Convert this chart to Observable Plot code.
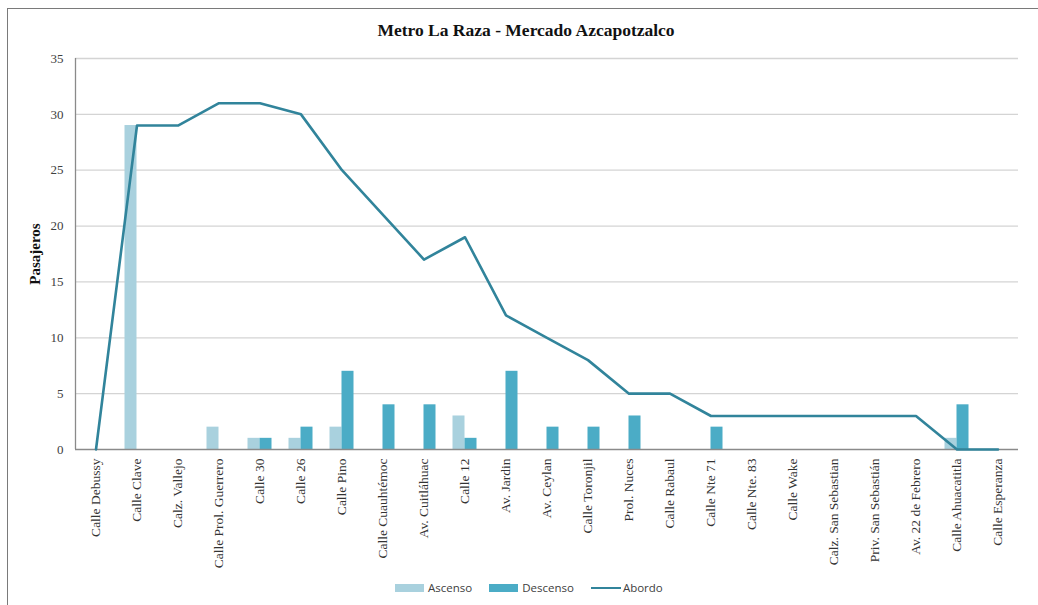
<!DOCTYPE html>
<html>
<head>
<meta charset="utf-8">
<script src="https://cdn.jsdelivr.net/npm/d3@7"></script>
<script src="https://cdn.jsdelivr.net/npm/@observablehq/plot@0.6"></script>
<style>
  html, body { margin: 0; padding: 0; background: #fff; }
  body { width: 1038px; height: 605px; overflow: hidden; position: relative; font-family: "Liberation Serif", "Times New Roman", serif; }
  #frame { position: absolute; left: 7px; top: 8px; right: -2px; bottom: -2px; border-left: 1.5px solid #7a7a7a; border-top: 1.5px solid #7a7a7a; }
  #title { position: absolute; left: 0; width: 1052px; top: 20px; text-align: center; font-weight: bold; font-size: 17.5px; color: #111; }
  #chart { position: absolute; left: 0; top: 50px; }
  #legend { position: absolute; left: 395px; top: 580px; display: flex; align-items: center; font-family: "Open Sans", sans-serif; font-size: 11.5px; color: #404040; }
  #legend .item { display: flex; align-items: center; margin-right: 17px; }
  #legend .sw { width: 29px; height: 8px; margin-right: 4px; }
  #legend .ln { width: 30px; height: 2px; margin-right: 2px; }
</style>
</head>
<body>
<div id="frame"></div>
<div id="title"></div>
<div id="chart"></div>
<div id="legend"></div>
<script>
const title = "Metro La Raza - Mercado Azcapotzalco";
const yLabel = "Pasajeros";
const stops = ["Calle Debussy", "Calle Clave", "Calz. Vallejo", "Calle Prol. Guerrero", "Calle 30", "Calle 26", "Calle Pino", "Calle Cuauhtémoc", "Av. Cuitláhuac", "Calle 12", "Av. Jardin", "Av. Ceylan", "Calle Toronjil", "Prol. Nuces", "Calle Rabaul", "Calle Nte 71", "Calle Nte. 83", "Calle Wake", "Calz. San Sebastian", "Priv. San Sebastián", "Av. 22 de Febrero", "Calle Ahuacatitla", "Calle Esperanza"];
const ascenso  = [0, 29, 0, 2, 1, 1, 2, 0, 0, 3, 0, 0, 0, 0, 0, 0, 0, 0, 0, 0, 0, 1, 0];
const descenso = [0, 0, 0, 0, 1, 2, 7, 4, 4, 1, 7, 2, 2, 3, 0, 2, 0, 0, 0, 0, 0, 4, 0];
const abordo   = [0, 29, 29, 31, 31, 30, 25, 21, 17, 19, 12, 10, 8, 5, 5, 3, 3, 3, 3, 3, 3, 0, 0];
const seriesNames = ["Ascenso", "Descenso", "Abordo"];
const seriesColors = ["#a9d1de", "#4bacc6", "#31849b"];
const yTicks = [0, 5, 10, 15, 20, 25, 30, 35];

document.getElementById("title").textContent = title;

const rows = stops.map((s, i) => ({stop: s, asc: ascenso[i], desc: descenso[i], abo: abordo[i]}));
const serif = "'Liberation Serif', 'Times New Roman', serif";

const chart = Plot.plot({
  width: 1038,
  height: 520,
  marginLeft: 75,
  marginRight: 20,
  marginTop: 8,
  marginBottom: 121,
  style: {fontFamily: serif, fontSize: "12px", color: "#404040", background: "transparent"},
  x: {type: "band", domain: stops, padding: 0},
  y: {domain: [0, 35]},
  marks: [
    Plot.ruleY(yTicks.filter(d => d > 0), {stroke: "#d4d4d4", strokeWidth: 1.3}),
    Plot.barY(rows, {x: "stop", y: "asc", fill: seriesColors[0], insetLeft: 8.5, insetRight: 20.5}),
    Plot.barY(rows, {x: "stop", y: "desc", fill: seriesColors[1], insetLeft: 20.5, insetRight: 8.5}),
    Plot.ruleX([stops[0]], {dx: -20.5, stroke: "#8a8a8a", strokeWidth: 1.3}),
    Plot.ruleY([0], {stroke: "#8a8a8a", strokeWidth: 1.3}),
    Plot.lineY(rows, {x: "stop", y: "abo", stroke: seriesColors[2], strokeWidth: 2.6}),
    Plot.axisY({ticks: yTicks, tickSize: 0, tickPadding: 12, label: null, fontSize: 13, fontFamily: serif, fill: "#404040"}),
    Plot.axisX({tickRotate: -90, tickSize: 0, tickPadding: 9, label: null, fontSize: 13.5, fontFamily: serif, fill: "#333"}),
    Plot.text([yLabel], {frameAnchor: "left", dx: -40, rotate: -90, textAnchor: "middle", text: d => d, fontWeight: "bold", fontSize: 15, fontFamily: serif, fill: "#111"})
  ]
});
document.getElementById("chart").appendChild(chart);

const legend = document.getElementById("legend");
seriesNames.forEach((name, i) => {
  const item = document.createElement("div");
  item.className = "item";
  const mark = document.createElement("div");
  mark.className = i < 2 ? "sw" : "ln";
  mark.style.background = seriesColors[i];
  const label = document.createElement("span");
  label.textContent = name;
  item.appendChild(mark);
  item.appendChild(label);
  legend.appendChild(item);
});
</script>
</body>
</html>
